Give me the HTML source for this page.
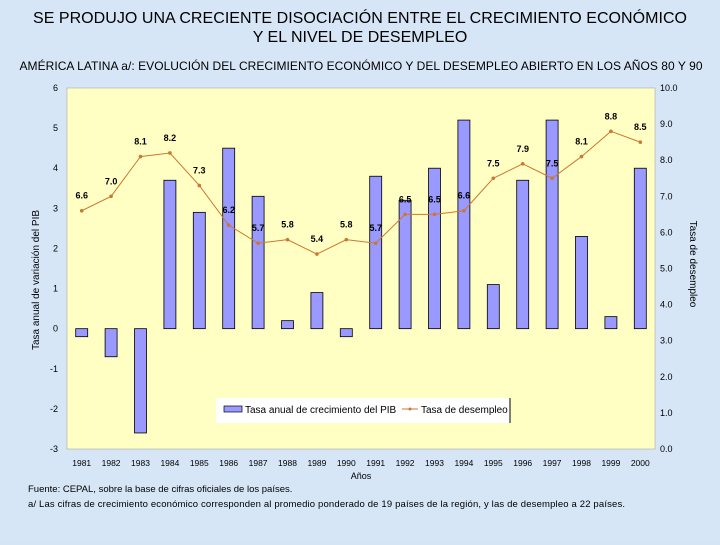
<!DOCTYPE html>
<html><head><meta charset="utf-8"><style>
body{margin:0;width:720px;height:540px;overflow:hidden;background:#d5e5f6;font-family:"Liberation Sans",sans-serif}
</style></head><body>
<svg width="720" height="540" xmlns="http://www.w3.org/2000/svg" font-family="Liberation Sans, sans-serif">
<rect width="720" height="540" fill="#d6e6f7"/>
<text x="360" y="23" font-size="16" text-anchor="middle" textLength="654">SE PRODUJO UNA CRECIENTE DISOCIACIÓN ENTRE EL CRECIMIENTO ECONÓMICO</text>
<text x="360" y="42" font-size="16" text-anchor="middle">Y EL NIVEL DE DESEMPLEO</text>
<text x="361" y="70" font-size="12" text-anchor="middle" textLength="683">AMÉRICA LATINA a/: EVOLUCIÓN DEL CRECIMIENTO ECONÓMICO Y DEL DESEMPLEO ABIERTO EN LOS AÑOS 80 Y 90</text>
<rect x="67" y="88" width="588" height="361" fill="#ffffc4" stroke="#999" stroke-width="0.5"/>
<g id="g"></g>
<text transform="translate(39,280) rotate(-90)" font-size="10" text-anchor="middle">Tasa anual de variación del PIB</text>
<text transform="translate(690,264) rotate(90)" font-size="10" text-anchor="middle">Tasa de desempleo</text>
<text x="361" y="479" font-size="9" text-anchor="middle">Años</text>
<g>
<rect x="216" y="398" width="294" height="25" fill="#fff"/>
<line x1="510" y1="398" x2="510" y2="423" stroke="#000"/>
<rect x="224" y="406" width="18" height="6" fill="#9999ff" stroke="#000" stroke-width="0.7"/>
<text x="245" y="413" font-size="10">Tasa anual de crecimiento del PIB</text>
<line x1="402" y1="409" x2="418" y2="409" stroke="#cc7733"/>
<circle cx="410" cy="409" r="1.5" fill="#cc7733"/>
<text x="421" y="413" font-size="10">Tasa de desempleo</text>
</g>
<text x="28" y="492" font-size="9.5">Fuente: CEPAL, sobre la base de cifras oficiales de los países.</text>
<text x="28" y="507" font-size="9.5" textLength="597">a/ Las cifras de crecimiento económico corresponden al promedio ponderado de 19 países de la región, y las de desempleo a 22 países.</text>
</svg>
<script>
const years=["1981","1982","1983","1984","1985","1986","1987","1988","1989","1990","1991","1992","1993","1994","1995","1996","1997","1998","1999","2000"];
const gdp=[-0.2,-0.7,-2.6,3.7,2.9,4.5,3.3,0.2,0.9,-0.2,3.8,3.2,4.0,5.2,1.1,3.7,5.2,2.3,0.3,4.0];
const unemp=[6.6,7.0,8.1,8.2,7.3,6.2,5.7,5.8,5.4,5.8,5.7,6.5,6.5,6.6,7.5,7.9,7.5,8.1,8.8,8.5];
const leftTicks=[-3,-2,-1,0,1,2,3,4,5,6];
const rightTicks=[0,1,2,3,4,5,6,7,8,9,10];
const X0=67,W=588,T=88,B=449;
const xs=i=>X0+W/years.length*(i+0.5);
const yl=v=>T+(6-v)/9*(B-T);
const yr=v=>B-v/10*(B-T);
const NS="http://www.w3.org/2000/svg",g=document.getElementById('g');
function mk(t,a){const e=document.createElementNS(NS,t);for(const k in a)e.setAttribute(k,a[k]);g.appendChild(e);return e;}
leftTicks.forEach(v=>{const t=mk('text',{x:58,y:yl(v)+3,'font-size':9,'text-anchor':'end'});t.textContent=v;

});
rightTicks.forEach(v=>{const t=mk('text',{x:660,y:yr(v)+3,'font-size':9});t.textContent=v.toFixed(1);

});
years.forEach((y,i)=>{const t=mk('text',{x:xs(i),y:466,'font-size':8.5,'text-anchor':'middle'});t.textContent=y;

});
gdp.forEach((v,i)=>{const y0=yl(0),y1=yl(v);const r=mk('rect',{x:xs(i)-6,y:Math.min(y0,y1),width:12,height:Math.abs(y1-y0),fill:'#9999ff',stroke:'#000','stroke-width':0.8});

});
const p=mk('polyline',{points:unemp.map((v,i)=>xs(i)+','+yr(v)).join(' '),fill:'none',stroke:'#cc7733','stroke-width':1});


unemp.forEach((v,i)=>{const c=mk('circle',{cx:xs(i),cy:yr(v),r:1.8,fill:'#cc7733'});


const t=mk('text',{x:xs(i),y:yr(v)-12,'font-size':9,'font-weight':'bold','text-anchor':'middle'});t.textContent=v.toFixed(1);

});
</script>
</body></html>
